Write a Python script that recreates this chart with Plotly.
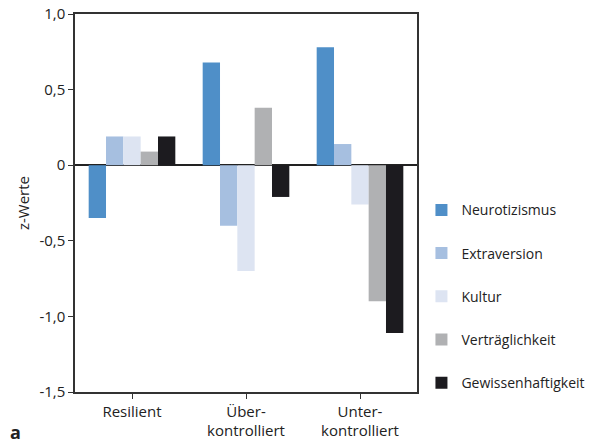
import plotly.graph_objects as go

categories = ["Resilient", "Über-<br>kontrolliert", "Unter-<br>kontrolliert"]
series_names = ["Neurotizismus", "Extraversion", "Kultur", "Verträglichkeit", "Gewissenhaftigkeit"]
neurotizismus = [-0.35, 0.68, 0.78]
extraversion = [0.19, -0.40, 0.14]
kultur = [0.19, -0.70, -0.26]
vertraeglichkeit = [0.09, 0.38, -0.90]
gewissenhaftigkeit = [0.19, -0.21, -1.11]
colors = ["#4f8fc8", "#a6bfe0", "#dde4f2", "#b0b1b3", "#1c1b1f"]
tick_vals = [1.0, 0.5, 0, -0.5, -1.0, -1.5]
tick_text = ["1,0", "0,5", "0", "-0,5", "-1,0", "-1,5"]

values = [neurotizismus, extraversion, kultur, vertraeglichkeit, gewissenhaftigkeit]
FONT = "Open Sans"
TXT = "#222222"

fig = go.Figure()
for name, vals, col in zip(series_names, values, colors):
    fig.add_trace(go.Bar(x=categories, y=vals, name=name, marker_color=col,
                         marker_line_width=0, legendgroup=name))

fig.update_layout(
    width=590, height=445,
    margin=dict(l=75, r=173, t=14, b=53, autoexpand=False),
    paper_bgcolor="white", plot_bgcolor="white",
    barmode="group", bargap=0.24, bargroupgap=0,
    font=dict(family=FONT, size=14, color=TXT),
    legend=dict(x=1.013, xanchor="left", y=0.523, yanchor="top",
                tracegroupgap=22, font=dict(size=14, family=FONT, color=TXT),
                itemwidth=30, bgcolor="rgba(0,0,0,0)"),
    showlegend=True,
)
fig.update_yaxes(range=[-1.5, 1.0], tickvals=tick_vals, ticktext=tick_text,
                 ticks="outside", ticklen=5, tickcolor="#333", showgrid=False,
                 showline=True, linecolor="#333", linewidth=1.5, mirror=True,
                 zeroline=True, zerolinecolor="#222", zerolinewidth=1.5, automargin=False,
                 title=dict(text="z-Werte", font=dict(size=15, family=FONT, color=TXT), standoff=6),
                 tickfont=dict(size=15, family=FONT, color=TXT))
fig.update_xaxes(ticks="outside", ticklen=5, tickcolor="#333", showgrid=False,
                 showline=True, linecolor="#333", linewidth=1.5, mirror=True, automargin=False,
                 tickfont=dict(size=15, family=FONT, color=TXT))
fig.add_annotation(text="<b>a</b>", xref="paper", yref="paper", x=-0.196, y=-0.107,
                   xanchor="left", yanchor="middle", showarrow=False,
                   font=dict(size=18, family=FONT, color=TXT))
fig.write_html("out.html", config={"displayModeBar": False},
               post_script="document.body.style.margin='0';")
